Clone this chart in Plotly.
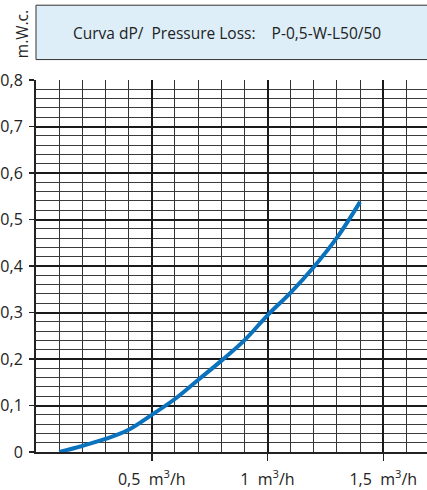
import plotly.graph_objects as go

# Data
flow_m3h = [0.1, 0.2, 0.3, 0.4, 0.5, 0.6, 0.7, 0.8, 0.9, 1.0, 1.1, 1.2, 1.3, 1.4]
dp_mwc = [0.0, 0.013, 0.028, 0.048, 0.080, 0.114, 0.155, 0.196, 0.240, 0.294, 0.343, 0.398, 0.461, 0.538]

x_tickvals = [0.5, 1.0, 1.5]
x_ticktext = ["0,5\u00a0\u00a0m<sup>3</sup>/h", "1\u00a0\u00a0m<sup>3</sup>/h", "1,5\u00a0\u00a0m<sup>3</sup>/h"]
y_tickvals = [0, 0.1, 0.2, 0.3, 0.4, 0.5, 0.6, 0.7, 0.8]
y_ticktext = ["0", "0,1", "0,2", "0,3", "0,4", "0,5", "0,6", "0,7", "0,8"]

title_text = "Curva dP/\u00a0\u00a0Pressure Loss:\u00a0\u00a0\u00a0\u00a0P-0,5-W-L50/50"
unit_text = "m.W.c."

FONT = "Open Sans"
W, H = 427, 490
L, R, T, B = 34, 0, 80, 37
plot_h = H - T - B

fig = go.Figure()
fig.add_trace(go.Scatter(
    x=flow_m3h, y=dp_mwc, mode="lines",
    line=dict(color="#0b72bd", width=4, shape="spline", smoothing=1.0),
    hoverinfo="skip",
))

fig.update_layout(
    width=W, height=H,
    margin=dict(l=L, r=R, t=T, b=B, pad=0),
    paper_bgcolor="white", plot_bgcolor="white",
    showlegend=False,
    font=dict(family=FONT, size=14, color="#222"),
    xaxis=dict(
        range=[0, 1.689], fixedrange=True,
        tickmode="array", tickvals=x_tickvals, ticktext=x_ticktext,
        ticks="outside", ticklen=7, tickwidth=1.5, tickcolor="#222",
        ticklabelstandoff=5,
        tickfont=dict(family=FONT, size=16, color="#222"),
        showgrid=True, gridcolor="#1a1a1a", gridwidth=2,
        minor=dict(dtick=0.1, tick0=0, showgrid=True, gridcolor="#333", gridwidth=1, ticks=""),
        showline=True, linecolor="#222", linewidth=2,
        zeroline=False,
    ),
    yaxis=dict(
        range=[0, 0.8], fixedrange=True,
        tickmode="array", tickvals=y_tickvals, ticktext=y_ticktext,
        ticks="outside", ticklen=5, tickwidth=1.5, tickcolor="#222",
        ticklabelstandoff=3,
        tickfont=dict(family=FONT, size=16, color="#222"),
        showgrid=True, gridcolor="#1a1a1a", gridwidth=2,
        minor=dict(dtick=0.02, tick0=0, showgrid=True, gridcolor="#3a3a3a", gridwidth=1, ticks=""),
        showline=True, linecolor="#222", linewidth=2,
        zeroline=False,
    ),
)

def py(pix_y):
    return 1 + (T - pix_y) / plot_h

def px(pix_x):
    return (pix_x - L) / (W - L - R)

# Title box
fig.add_shape(type="rect", xref="paper", yref="paper",
              x0=px(34), x1=px(440), y0=py(59.5), y1=py(5),
              fillcolor="#ddeef9", line=dict(color="#333", width=1), layer="above")
fig.add_annotation(xref="paper", yref="paper", x=px(226), y=py(33),
                   text=title_text, showarrow=False,
                   font=dict(family=FONT, size=15.5, color="#222"),
                   xanchor="center", yanchor="middle")
fig.add_annotation(xref="paper", yref="paper", x=px(20), y=py(34),
                   text=unit_text, showarrow=False, textangle=-90,
                   font=dict(family=FONT, size=15.5, color="#222"),
                   xanchor="center", yanchor="middle")

fig.write_html("out.html",
               config={"displayModeBar": False, "staticPlot": True},
               post_script="document.body.style.margin='0';document.body.style.overflow='hidden';")
